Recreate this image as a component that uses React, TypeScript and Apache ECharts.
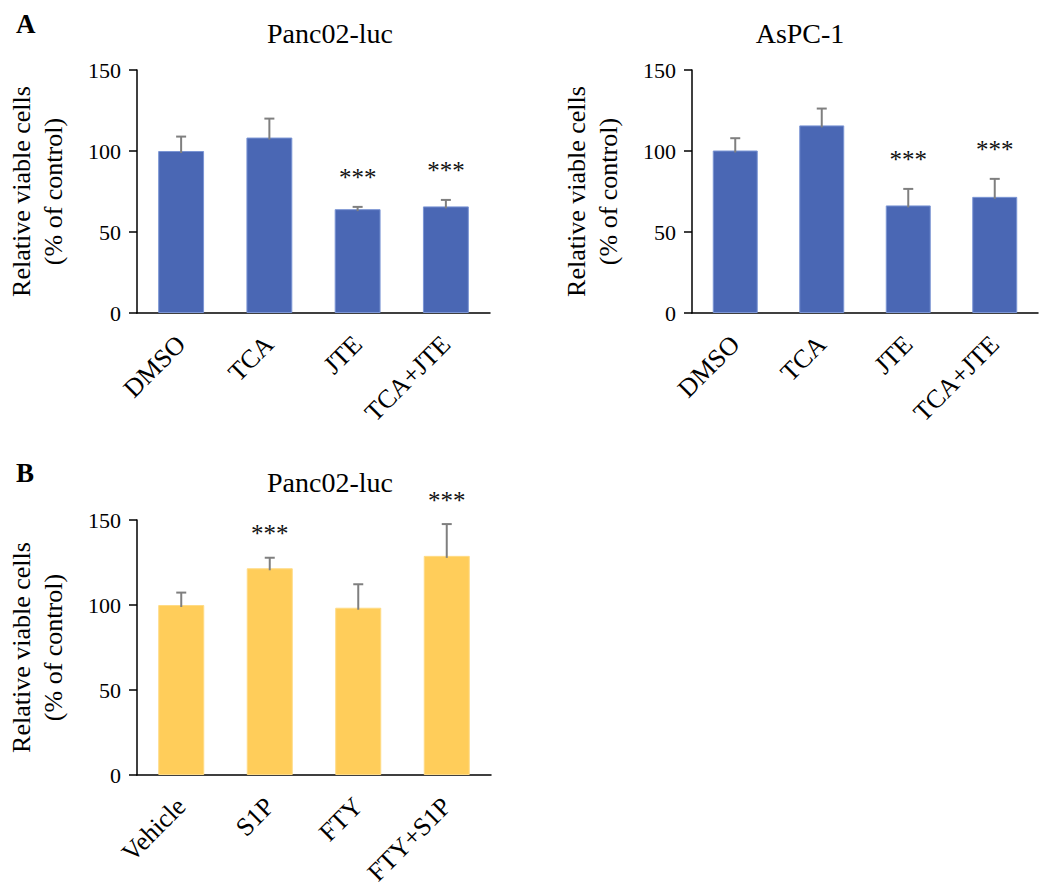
import React, { useEffect, useRef } from "react";
import * as echarts from "echarts";

const treatmentCategories = ["DMSO", "TCA", "JTE", "TCA+JTE"];
const panc02Means = [100, 108.3, 64.1, 65.8];
const panc02Errors = [8.9, 11.7, 1.4, 4.0];
const panc02Sig = ["", "", "***", "***"];

const aspc1Means = [100.3, 115.8, 66.4, 71.7];
const aspc1Errors = [7.6, 10.4, 10.2, 11.1];
const aspc1Sig = ["", "", "***", "***"];

const s1pCategories = ["Vehicle", "S1P", "FTY", "FTY+S1P"];
const s1pMeans = [100, 121.6, 98.4, 128.9];
const s1pErrors = [7.3, 6.2, 13.8, 18.7];
const s1pSig = ["", "***", "", "***"];

const yMin = 0;
const yMax = 150;
const yInterval = 50;

const panelTitles = ["Panc02-luc", "AsPC-1", "Panc02-luc"];
const panelLetters = ["A", "B"];
const yAxisName = "Relative viable cells\n(% of control)";

const FONT = "'Times New Roman', 'Liberation Serif', serif";
const BLUE = "#4a67b4";
const BLUE_BORDER = "#7b95d4";
const YELLOW = "#ffcd5a";
const YELLOW_BORDER = "#ffdb85";
const ERR = "#7f7f7f";

function errorSeries(gridIdx: number, means: number[], errs: number[], sig: string[], gap: number) {
  return {
    type: "custom",
    xAxisIndex: gridIdx,
    yAxisIndex: gridIdx,
    z: 5,
    data: means.map((m, i) => [i, m, errs[i]]),
    renderItem: (params: any, api: any) => {
      const i = api.value(0);
      const m = api.value(1);
      const e = api.value(2);
      const base = api.coord([i, m]);
      const top = api.coord([i, m + e]);
      const children: any[] = [
        {
          type: "line",
          shape: { x1: base[0], y1: base[1] + 2, x2: top[0], y2: top[1] },
          style: { stroke: ERR, lineWidth: 2 },
        },
        {
          type: "line",
          shape: { x1: top[0] - 5, y1: top[1], x2: top[0] + 5, y2: top[1] },
          style: { stroke: ERR, lineWidth: 2 },
        },
      ];
      const s = sig[params.dataIndex];
      if (s) {
        children.push({
          type: "text",
          x: top[0],
          y: top[1] - gap,
          style: {
            text: s,
            fill: "#111",
            font: `25px ${FONT}`,
            textAlign: "center",
            textVerticalAlign: "middle",
          },
        });
      }
      return { type: "group", children };
    },
  };
}

export default function App() {
  const ref = useRef<HTMLDivElement>(null);
  useEffect(() => {
    if (!ref.current) return;
    const chart = echarts.init(ref.current, null, { renderer: "svg" });
    const grids = [
      { left: 137, top: 70, width: 353, height: 243 },
      { left: 692, top: 70, width: 346, height: 243 },
      { left: 137, top: 520, width: 354, height: 255 },
    ];
    const cats = [treatmentCategories, treatmentCategories, s1pCategories];
    const xAxis = cats.map((c, gi) => ({
      type: "category",
      gridIndex: gi,
      data: c,
      axisLine: { lineStyle: { color: "#000", width: 1.5 } },
      axisTick: { show: false },
      axisLabel: {
        interval: 0,
        rotate: 45,
        margin: 27,
        color: "#000",
        fontSize: 26,
        fontFamily: FONT,
      },
    }));
    const yAxis = cats.map((_, gi) => ({
      type: "value",
      gridIndex: gi,
      min: yMin,
      max: yMax,
      interval: yInterval,
      name: yAxisName,
      nameLocation: "middle",
      nameGap: 68,
      nameTextStyle: { fontSize: 26, fontFamily: FONT, color: "#000", lineHeight: 32 },
      axisLine: { show: true, lineStyle: { color: "#000", width: 1.5 } },
      axisTick: { show: true, inside: false, length: 8, lineStyle: { color: "#000", width: 1.5 } },
      splitLine: { show: false },
      axisLabel: { color: "#000", fontSize: 22, fontFamily: FONT, margin: 16 },
    }));
    const barSeries = (gi: number, data: number[], color: string, border: string) => ({
      type: "bar",
      xAxisIndex: gi,
      yAxisIndex: gi,
      data,
      barWidth: "52%",
      itemStyle: { color, borderColor: border, borderWidth: 1 },
      z: 2,
    });
    const titleXs = [330, 800, 330];
    const titleYs = [33, 33, 482];
    chart.setOption({
      animation: false,
      backgroundColor: "#fff",
      grid: grids,
      xAxis,
      yAxis,
      series: [
        barSeries(0, panc02Means, BLUE, BLUE_BORDER),
        barSeries(1, aspc1Means, BLUE, BLUE_BORDER),
        barSeries(2, s1pMeans, YELLOW, YELLOW_BORDER),
        errorSeries(0, panc02Means, panc02Errors, panc02Sig, 29),
        errorSeries(1, aspc1Means, aspc1Errors, aspc1Sig, 29),
        errorSeries(2, s1pMeans, s1pErrors, s1pSig, 24),
      ],
      graphic: [
        ...panelTitles.map((t, i) => ({
          type: "text",
          x: titleXs[i],
          y: titleYs[i],
          style: {
            text: t,
            font: `28px ${FONT}`,
            fill: "#000",
            textAlign: "center",
            textVerticalAlign: "middle",
          },
        })),
        ...panelLetters.map((l, i) => ({
          type: "text",
          x: 16,
          y: i === 0 ? 24 : 473,
          style: {
            text: l,
            font: `bold 27px ${FONT}`,
            fill: "#000",
            textAlign: "left",
            textVerticalAlign: "middle",
          },
        })),
      ],
    });
    return () => chart.dispose();
  }, []);
  return (
    <div
      ref={ref}
      style={{ position: "absolute", left: 0, top: 0, width: 1050, height: 891 }}
    />
  );
}
